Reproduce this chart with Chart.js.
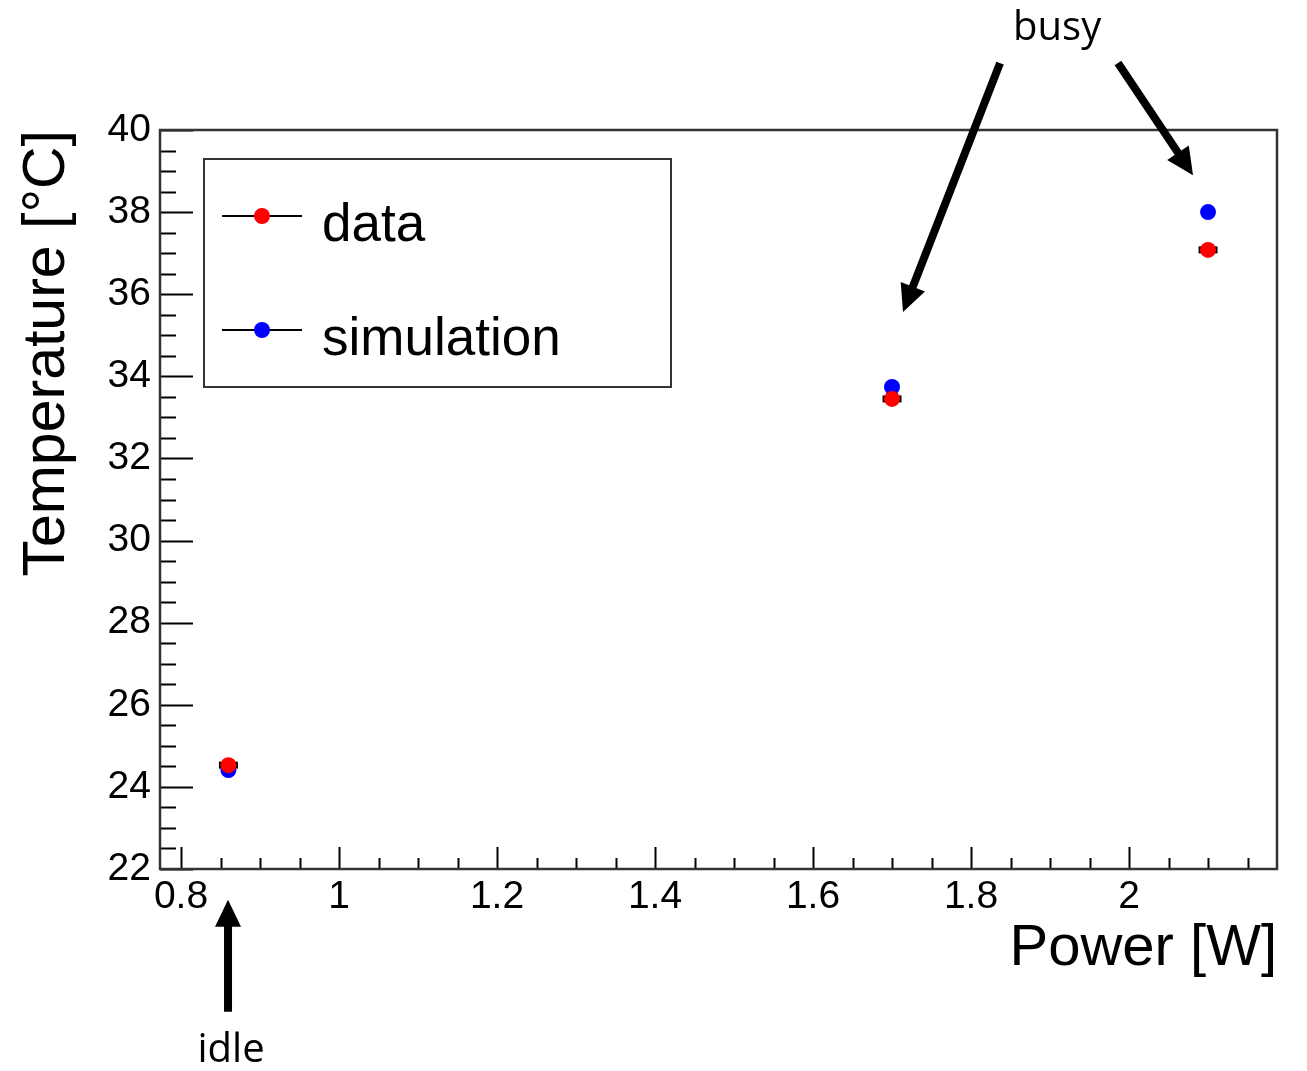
<!DOCTYPE html>
<html>
<head>
<meta charset="utf-8">
<script src="https://cdn.jsdelivr.net/npm/chart.js@4.4.0/dist/chart.umd.min.js"></script>
<style>
  html, body { margin: 0; padding: 0; background: #fff; }
  #c { display: block; }
</style>
</head>
<body>
<canvas id="c" width="1307" height="1071"></canvas>
<script>
// ---- data ----
const powerW   = [0.86, 1.70, 2.10];          // W
const dataTemp = [24.53, 33.45, 37.08];       // measured, °C
const simTemp  = [24.41, 33.74, 38.00];       // simulation, °C
const dataErrW = [0.012, 0.012, 0.012];       // small x error bars on data

const xRange = [0.7734, 2.1873];
const yRange = [22, 40];
const xStep = 0.2, xMinor = 0.05;
const yStep = 2,   yMinor = 0.5;

// annotations in data coords: [x1, y1, x2, y2] tail -> tip
const arrows = [
  [0.8595, 18.52, 0.8595, 21.25],   // idle
  [1.8367, 41.63, 1.7139, 35.57],   // busy (middle point)
  [1.9860, 41.63, 2.0810, 38.90]    // busy (right point)
];
const notes = [
  { text: 'busy', x: 1.909, y: 42.19 },
  { text: 'idle', x: 0.8633, y: 17.30 }
];

const AX = "'Liberation Sans', Arial, sans-serif";
const NOTE_FONT = "40px 'Open Sans', sans-serif";

const frameAndTicks = {
  id: 'frameAndTicks',
  beforeDatasetsDraw(chart) {
    const { ctx, chartArea: a, scales: { x, y } } = chart;
    ctx.save();
    ctx.strokeStyle = '#000';
    ctx.lineWidth = 2;
    // y ticks, inside, on left axis
    for (let v = Math.ceil(y.min / yMinor) * yMinor; v <= y.max + 1e-9; v += yMinor) {
      const py = Math.round(y.getPixelForValue(v)) + 0.5;
      const major = Math.abs(v / yStep - Math.round(v / yStep)) < 1e-6;
      ctx.beginPath();
      ctx.moveTo(a.left, py);
      ctx.lineTo(a.left + (major ? 33 : 16), py);
      ctx.stroke();
    }
    // x ticks, inside, on bottom axis
    for (let v = Math.ceil(x.min / xMinor - 1e-6) * xMinor; v <= x.max + 1e-9; v += xMinor) {
      const px = Math.round(x.getPixelForValue(v)) + 0.5;
      const major = Math.abs(v / xStep - Math.round(v / xStep)) < 1e-6;
      ctx.beginPath();
      ctx.moveTo(px, a.bottom);
      ctx.lineTo(px, a.bottom - (major ? 22 : 11));
      ctx.stroke();
    }
    // error bars on the data series
    ctx.lineWidth = 7;
    powerW.forEach((p, i) => {
      const py = y.getPixelForValue(dataTemp[i]);
      ctx.beginPath();
      ctx.moveTo(x.getPixelForValue(p - dataErrW[i]), py);
      ctx.lineTo(x.getPixelForValue(p + dataErrW[i]), py);
      ctx.stroke();
    });
    ctx.restore();
  },
  afterDraw(chart) {
    const { ctx, chartArea: a, scales: { x, y } } = chart;
    ctx.save();
    // frame
    ctx.strokeStyle = '#333';
    ctx.lineWidth = 2.5;
    ctx.strokeRect(a.left, a.top, a.right - a.left, a.bottom - a.top);

    // legend box
    const lx = a.left + 44, ly = a.top + 29, lw = 467, lh = 228;
    ctx.fillStyle = '#fff';
    ctx.fillRect(lx, ly, lw, lh);
    ctx.lineWidth = 2;
    ctx.strokeRect(lx, ly, lw, lh);
    chart.data.datasets.forEach((ds, i) => {
      const ry = ly + 57 + i * 114;
      ctx.strokeStyle = '#000';
      ctx.lineWidth = 2;
      ctx.beginPath();
      ctx.moveTo(lx + 18, ry);
      ctx.lineTo(lx + 98, ry);
      ctx.stroke();
      ctx.fillStyle = ds.backgroundColor;
      ctx.beginPath();
      ctx.arc(lx + 58, ry, 8, 0, Math.PI * 2);
      ctx.fill();
      ctx.fillStyle = '#000';
      ctx.font = '53px ' + AX;
      ctx.textAlign = 'left';
      ctx.textBaseline = 'alphabetic';
      ctx.fillText(ds.label, lx + 118, ry + 25);
    });

    // arrows
    ctx.fillStyle = '#000';
    ctx.strokeStyle = '#000';
    arrows.forEach(([x1, y1, x2, y2]) => {
      const ax = x.getPixelForValue(x1), ay = y.getPixelForValue(y1);
      const bx = x.getPixelForValue(x2), by = y.getPixelForValue(y2);
      const len = Math.hypot(bx - ax, by - ay);
      const ux = (bx - ax) / len, uy = (by - ay) / len;
      const head = 27, half = 13;
      const hx = bx - ux * head, hy = by - uy * head;
      ctx.lineWidth = 8;
      ctx.lineCap = 'butt';
      ctx.beginPath();
      ctx.moveTo(ax, ay);
      ctx.lineTo(hx + ux * 2, hy + uy * 2);
      ctx.stroke();
      ctx.beginPath();
      ctx.moveTo(bx, by);
      ctx.lineTo(hx - uy * half, hy + ux * half);
      ctx.lineTo(hx + uy * half, hy - ux * half);
      ctx.closePath();
      ctx.fill();
    });
    ctx.font = NOTE_FONT;
    ctx.textAlign = 'center';
    ctx.textBaseline = 'alphabetic';
    notes.forEach(n => {
      ctx.fillText(n.text, x.getPixelForValue(n.x), y.getPixelForValue(n.y));
    });
    ctx.restore();
  }
};

new Chart(document.getElementById('c'), {
  type: 'scatter',
  data: {
    datasets: [
      {
        label: 'data',
        data: powerW.map((p, i) => ({ x: p, y: dataTemp[i] })),
        backgroundColor: '#ff0000',
        borderWidth: 0,
        pointRadius: 8,
        order: 0
      },
      {
        label: 'simulation',
        data: powerW.map((p, i) => ({ x: p, y: simTemp[i] })),
        backgroundColor: '#0000ff',
        borderWidth: 0,
        pointRadius: 8,
        order: 1
      }
    ]
  },
  options: {
    responsive: false,
    devicePixelRatio: 1,
    animation: false,
    events: [],
    layout: { padding: { top: 130, right: 30, bottom: 0, left: 0 } },
    plugins: { legend: { display: false }, tooltip: { enabled: false } },
    scales: {
      x: {
        type: 'linear',
        min: xRange[0],
        max: xRange[1],
        border: { display: false },
        grid: { display: false, drawTicks: false },
        ticks: {
          stepSize: xStep,
          includeBounds: false,
          autoSkip: false,
          maxRotation: 0,
          padding: 5,
          color: '#000',
          font: { family: AX, size: 39 },
          callback: v => String(+v.toFixed(1))
        },
        title: {
          display: true,
          text: 'Power [W]',
          align: 'end',
          color: '#000',
          font: { family: AX, size: 58 },
          padding: { top: 0, bottom: 87 }
        },
        afterFit: s => { s.height = 202; }
      },
      y: {
        type: 'linear',
        min: yRange[0],
        max: yRange[1],
        border: { display: false },
        grid: { display: false, drawTicks: false },
        ticks: {
          stepSize: yStep,
          autoSkip: false,
          padding: 9,
          color: '#000',
          font: { family: AX, size: 39 }
        },
        title: {
          display: true,
          text: 'Temperature [°C]',
          align: 'end',
          color: '#000',
          font: { family: AX, size: 59 },
          padding: { top: 12, bottom: 0 }
        },
        afterFit: s => { s.width = 160; }
      }
    }
  },
  plugins: [frameAndTicks]
});
</script>
</body>
</html>
